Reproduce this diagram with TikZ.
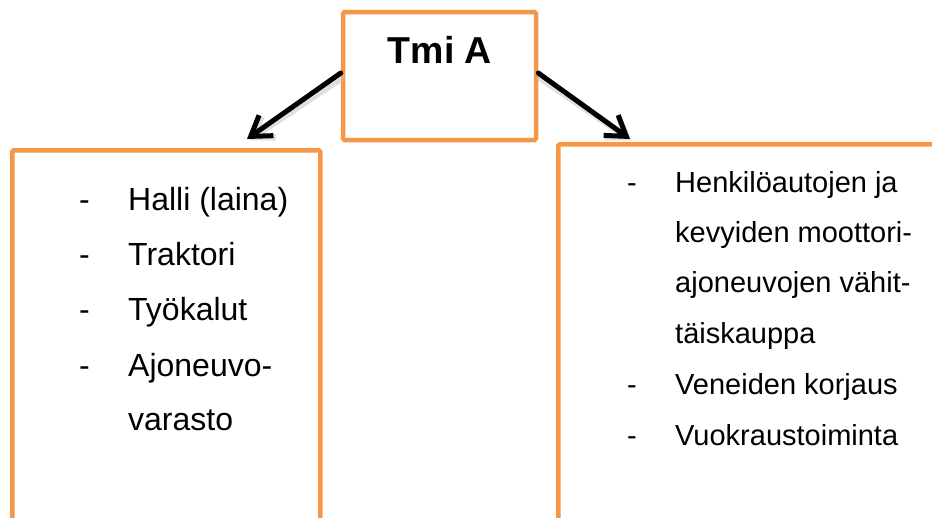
\documentclass[tikz,border=0pt]{standalone}
\usepackage{fontspec}
\setmainfont{Liberation Sans}
\usetikzlibrary{arrows.meta}
\definecolor{boxorange}{HTML}{F79646}
\tikzset{
  frame/.style={draw=boxorange, line width=4.5pt, fill=white, inner sep=0pt, rounded corners=1.5pt},
  link/.style={draw=black, line width=5pt, line cap=round,
    -{Straight Barb[length=19pt,width=25pt,line width=5pt]}},
  linkshadow/.style={draw=black!25, line width=6pt, line cap=round, opacity=0.5,
    -{Straight Barb[length=19pt,width=25pt,line width=6pt]}},
  itemL/.style={anchor=base west, inner sep=0pt, font=\fontsize{32}{38}\selectfont},
  itemR/.style={anchor=base west, inner sep=0pt, font=\fontsize{29}{35}\selectfont},
  title/.style={anchor=base, inner sep=0pt, font=\fontsize{37.5}{44}\selectfont\bfseries}
}
\begin{document}
\begin{tikzpicture}[x=1pt, y=-1pt]
  \useasboundingbox (0,0) rectangle (932,517);
  \clip (0,0) rectangle (932,517);

  % firm box
  \node[frame, minimum width=193pt, minimum height=128pt] (firm) at (439.5,76) {};
  \node[title] (firmname) at (440,63) {Tmi A};

  % lower boxes, running past the page edges
  \node[frame, anchor=north west, minimum width=308pt, minimum height=460pt] (assets) at (10,148) {};
  \node[frame, anchor=north west, minimum width=460pt, minimum height=460pt] (business) at (556,142) {};

  % arrow end points on the lower boxes
  \coordinate (ltip) at (247,139);
  \coordinate (rtip) at (630,139);

  % connectors with a soft shadow
  \draw[linkshadow] ([xshift=1.5pt,yshift=-2pt]firm.west) -- ([xshift=1.5pt,yshift=-1.5pt]ltip);
  \draw[linkshadow] ([xshift=1.5pt,yshift=-2pt]firm.east) -- ([xshift=1.5pt,yshift=-1.5pt]rtip);
  \draw[link] ([yshift=3pt]firm.west) -- (ltip);
  \draw[link] ([yshift=3pt]firm.east) -- (rtip);

  % left list
  \node[itemL] (ld1) at (79,210) {-};
  \node[itemL] (lt1) at (128,210) {Halli (laina)};
  \node[itemL] (ld2) at (79,265) {-};
  \node[itemL] (lt2) at (128,265) {Traktori};
  \node[itemL] (ld3) at (79,320) {-};
  \node[itemL] (lt3) at (128,320) {Työkalut};
  \node[itemL] (ld4) at (79,376) {-};
  \node[itemL] (lt4) at (128,376) {Ajoneuvo-};
  \node[itemL] (lt5) at (128,430) {varasto};

  % right list
  \node[itemR] (rd1) at (627,192) {-};
  \node[itemR] (rt1) at (675,192) {Henkilöautojen ja};
  \node[itemR] (rt2) at (675,242) {kevyiden moottori-};
  \node[itemR] (rt3) at (675,292) {ajoneuvojen vähit-};
  \node[itemR] (rt4) at (675,343) {täiskauppa};
  \node[itemR] (rd2) at (627,394) {-};
  \node[itemR] (rt5) at (675,394) {Veneiden korjaus};
  \node[itemR] (rd3) at (627,445) {-};
  \node[itemR] (rt6) at (675,445) {Vuokraustoiminta};
\end{tikzpicture}
\end{document}
